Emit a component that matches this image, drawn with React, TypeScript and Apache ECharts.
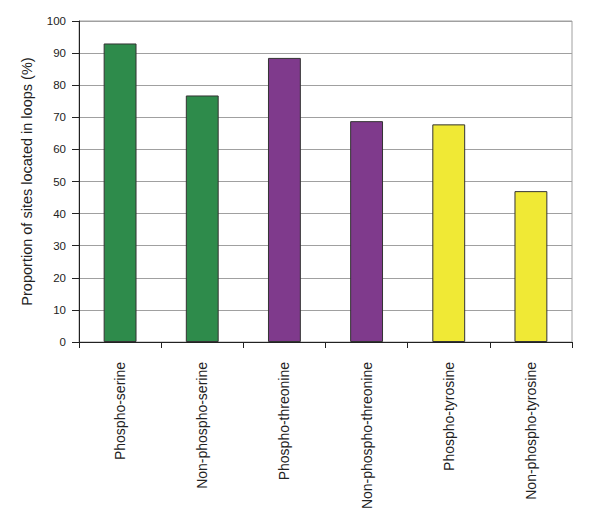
import React, { useEffect, useRef } from "react";
import * as echarts from "echarts";

const categories = [
  "Phospho-serine",
  "Non-phospho-serine",
  "Phospho-threonine",
  "Non-phospho-threonine",
  "Phospho-tyrosine",
  "Non-phospho-tyrosine",
];
const values = [93.0, 76.8, 88.5, 68.8, 67.8, 47.0];
const barColors = ["#2e8b4b", "#2e8b4b", "#7f3a8c", "#7f3a8c", "#f0e935", "#f0e935"];
const yTicks = { min: 0, max: 100, interval: 10 };
const yName = "Proportion of sites located in loops (%)";

export default function App() {
  const ref = useRef<HTMLDivElement>(null);
  useEffect(() => {
    if (!ref.current) return;
    const chart = echarts.init(ref.current, undefined, { renderer: "svg" });
    chart.setOption({
      animation: false,
      backgroundColor: "#ffffff",
      grid: {
        left: 79,
        right: 28,
        top: 21,
        bottom: 183,
        show: true,
        borderColor: "#a0a0a0",
        borderWidth: 1,
        backgroundColor: "transparent",
      },
      xAxis: {
        type: "category",
        data: categories,
        axisLine: { show: true, lineStyle: { color: "#222", width: 1 } },
        axisTick: { show: true, length: 6, lineStyle: { color: "#222" } },
        axisLabel: {
          rotate: 90,
          margin: 20,
          fontFamily: "Liberation Sans, Arial, sans-serif",
          fontSize: 14,
          color: "#222",
        },
        splitLine: { show: false },
      },
      yAxis: {
        type: "value",
        min: yTicks.min,
        max: yTicks.max,
        interval: yTicks.interval,
        name: yName,
        nameLocation: "middle",
        nameGap: 45,
        nameTextStyle: {
          fontFamily: "Liberation Sans, Arial, sans-serif",
          fontSize: 14.5,
          color: "#222",
        },
        axisLine: { show: true, lineStyle: { color: "#222", width: 1 } },
        axisTick: { show: true, length: 7, lineStyle: { color: "#222" } },
        axisLabel: {
          margin: 13,
          fontFamily: "Liberation Sans, Arial, sans-serif",
          fontSize: 11.5,
          color: "#222",
        },
        splitLine: { show: true, lineStyle: { color: "#a0a0a0", width: 1 } },
      },
      series: [
        {
          type: "bar",
          barWidth: "40%",
          data: values.map((v, i) => ({
            value: v,
            itemStyle: { color: barColors[i], borderColor: "#333", borderWidth: 1 },
          })),
        },
      ],
    });
    return () => chart.dispose();
  }, []);
  return <div ref={ref} style={{ width: 600, height: 525, margin: -8 }} />;
}
